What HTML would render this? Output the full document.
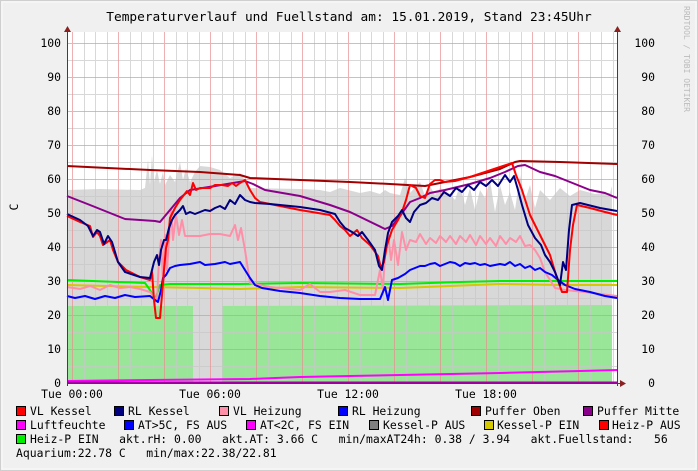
<!DOCTYPE html>
<html><head><meta charset="utf-8"><style>
html,body{margin:0;padding:0;background:#f0f0f0}
svg{display:block}
text{font-family:"DejaVu Sans Mono","Liberation Mono",monospace;fill:#000;white-space:pre}
</style></head><body>
<svg width="698" height="471" viewBox="0 0 698 471" xmlns="http://www.w3.org/2000/svg">
<rect x="0" y="0" width="698" height="471" fill="#f0f0f0"/>
<rect x="0.5" y="0.5" width="697" height="470" fill="none" stroke="#cfcfcf" stroke-width="1"/>
<rect x="2" y="2" width="694" height="467" fill="none" stroke="#fafafa" stroke-width="1"/>
<rect x="67" y="32" width="550" height="351" fill="#fff"/>
<polygon fill="#d8d8d8" points="67,383 67,190 100,189 140,190 145,188 148,160 150,185 152,155 154,182 157,170 160,184 163,172 165,185 170,175 175,182 180,162 183,180 186,168 190,182 195,172 200,166 210,167 220,170 230,178 240,173 250,188 300,189 320,190 330,192 340,188 360,193 370,191 380,194 385,190 390,193 400,195 405,178 410,193 420,182 425,196 430,186 435,195 440,188 450,194 455,200 460,185 465,205 470,188 475,210 480,190 485,198 490,180 495,212 500,185 505,205 510,192 515,210 520,175 525,200 530,185 535,208 540,190 545,195 550,200 560,188 570,196 580,190 595,194 610,193 612,186 612,383"/>
<polygon fill="#99e699" points="67,383 67,306 193,306 193,383"/>
<polygon fill="#99e699" points="222,383 222,306 612,305 612,383"/>
<g stroke="#c8c8c8" stroke-width="1" opacity="0.7">
<path d="M95.5 32V383M141.5 32V383M187.5 32V383M233.5 32V383M279.5 32V383M325.5 32V383M371.5 32V383M417.5 32V383M463.5 32V383M509.5 32V383M555.5 32V383M601.5 32V383M84.5 32V383M107.5 32V383M130.5 32V383M153.5 32V383M176.5 32V383M199.5 32V383M222.5 32V383M245.5 32V383M268.5 32V383M291.5 32V383M314.5 32V383M337.5 32V383M360.5 32V383M383.5 32V383M406.5 32V383M429.5 32V383M452.5 32V383M475.5 32V383M498.5 32V383M521.5 32V383M544.5 32V383M567.5 32V383M590.5 32V383M613.5 32V383"/>
<path d="M67 366.5H617M67 332.5H617M67 298.5H617M67 264.5H617M67 230.5H617M67 196.5H617M67 162.5H617M67 128.5H617M67 94.5H617M67 60.5H617"/>
</g>
<g stroke="#e89090" stroke-width="1" opacity="0.7">
<path d="M72.5 32V383M118.5 32V383M164.5 32V383M210.5 32V383M256.5 32V383M302.5 32V383M348.5 32V383M394.5 32V383M440.5 32V383M486.5 32V383M532.5 32V383M578.5 32V383"/>
<path d="M67 349.5H617M67 315.5H617M67 281.5H617M67 247.5H617M67 213.5H617M67 179.5H617M67 145.5H617M67 111.5H617M67 77.5H617M67 43.5H617"/>
</g>
<g fill="none" stroke-width="2" stroke-linejoin="round">
<polyline stroke="#d4c800" points="67,285 150,287 200,288 240,289 300,287 400,288 450,286 500,284 560,285 617,285"/>
<polyline stroke="#00ee00" points="67,280 145,283 150,290 155,300 160,285 170,284 240,284 300,283 400,284 460,282 500,281 617,281"/>
<polyline stroke="#ff8fa8" points="67,287 80,289 90,286 100,290 110,285 120,288 130,287 140,289 150,292 157,300 159,260 161,240 163,280 165,235 167,270 169,240 171,210 173,240 176,215 179,235 182,220 185,236 190,236 200,236 210,234 220,234 230,236 235,225 238,240 241,228 245,250 250,283 270,287 300,290 310,284 320,292 330,292 345,290 360,295 375,295 380,270 383,290 385,250 388,235 391,260 394,240 398,265 402,232 406,250 410,240 416,242 420,234 426,244 430,238 436,243 440,236 446,242 450,236 456,244 460,236 466,242 470,235 476,245 480,236 486,244 490,238 496,246 500,236 506,244 510,238 516,242 520,236 525,246 530,245 535,250 540,258 545,272 555,288 565,290 585,292 600,294 617,296"/>
<polyline stroke="#0000ff" points="67,296 75,298 85,296 95,299 105,296 115,298 125,295 135,297 150,296 155,300 158,302 161,290 163,278 166,275 170,268 175,266 180,265 190,264 200,262 205,265 215,264 225,262 230,264 240,262 245,270 250,278 255,285 262,288 280,291 300,293 320,296 340,298 360,299 380,299 385,287 388,300 392,280 398,278 405,274 410,270 415,268 420,266 425,266 430,264 435,263 440,266 445,264 450,262 455,263 460,266 465,263 470,264 475,263 480,265 485,264 490,266 495,265 500,264 505,265 510,262 515,266 520,264 525,268 530,266 535,270 540,268 545,272 552,275 558,280 565,285 575,289 590,292 605,296 617,298"/>
<polyline stroke="#a00000" points="67,166 150,170 200,172 240,175 250,178 300,180 350,182 390,184 425,186 440,183 470,177 500,169 515,162 520,161 560,162 617,164"/>
<polyline stroke="#8b008b" points="67,196 90,205 110,213 125,219 155,221 160,222 170,210 180,198 190,190 215,186 245,181 253,184 265,190 300,196 330,205 350,212 385,229 392,226 400,216 410,202 420,198 430,193 445,190 470,184 490,178 505,172 518,166 525,165 540,172 555,176 565,180 575,184 590,190 605,193 617,198"/>
<polyline stroke="#ff0000" points="67,216 80,222 90,226 93,237 97,232 100,236 103,245 110,240 113,250 118,262 126,270 140,277 150,280 152,272 154,300 156,318 160,318 162,295 164,270 166,248 168,240 170,218 175,208 180,200 187,191 190,195 193,183 196,190 200,188 210,188 215,185 222,185 228,186 232,183 236,186 240,183 245,180 250,190 255,198 260,202 280,206 300,210 330,215 335,220 340,226 345,230 350,236 357,230 362,238 370,245 378,256 381,268 384,262 387,245 392,230 398,220 402,212 406,200 410,185 416,188 420,196 425,198 430,184 435,180 440,180 445,182 455,181 470,177 485,172 500,167 512,163 516,175 522,190 530,215 540,235 545,245 550,255 556,275 562,292 567,292 570,250 573,225 577,205 590,208 605,212 617,215"/>
<polyline stroke="#000080" points="67,214 80,220 88,226 93,236 97,230 100,232 104,244 108,236 112,242 118,262 125,272 140,277 150,278 152,270 154,262 157,255 159,265 161,250 164,240 166,240 169,228 172,220 175,215 180,210 183,206 186,214 190,212 195,214 200,212 205,210 210,211 215,208 220,206 225,209 230,200 235,204 240,195 245,200 250,202 255,203 270,204 300,207 320,210 335,214 340,222 345,228 352,232 358,236 362,232 368,240 375,250 379,266 382,270 385,250 388,233 392,222 398,216 402,210 406,218 410,222 414,212 420,205 426,203 432,198 438,200 444,192 450,196 456,188 462,192 468,185 474,190 480,182 486,186 492,180 498,186 505,175 510,182 514,176 518,190 522,205 528,225 535,238 541,245 545,255 550,262 555,272 560,285 563,262 566,270 569,230 572,205 580,203 600,208 617,211"/>
<polyline stroke="#ff00ff" points="67,381 150,380 250,379 300,377 400,375 500,373 580,371 617,370"/>
</g>
<line x1="67" y1="382.5" x2="617" y2="382.5" stroke="#a000a0" stroke-width="2"/>
<g stroke="#404040" stroke-width="1">
<line x1="67.5" y1="30" x2="67.5" y2="386"/>
<line x1="617.5" y1="30" x2="617.5" y2="386"/>
<line x1="67" y1="383.5" x2="620" y2="383.5"/>
</g>
<polygon points="64,32 71,32 67.5,26" fill="#8b2020"/>
<polygon points="614,32 621,32 617.5,26" fill="#8b2020"/>
<polygon points="620,380 620,387 626,383.5" fill="#8b2020"/>
<text x="349" y="21" font-size="12.8" text-anchor="middle">Temperaturverlauf und Fuellstand am: 15.01.2019, Stand 23:45Uhr</text>
<g font-size="11.4" text-anchor="end">
<text x="61" y="47">100</text><text x="61" y="81">90</text><text x="61" y="115">80</text><text x="61" y="149">70</text><text x="61" y="183">60</text><text x="61" y="217">50</text><text x="61" y="251">40</text><text x="61" y="285">30</text><text x="61" y="319">20</text><text x="61" y="353">10</text><text x="61" y="387">0</text>
</g>
<g font-size="11.4" text-anchor="end">
<text x="655" y="47">100</text><text x="655" y="81">90</text><text x="655" y="115">80</text><text x="655" y="149">70</text><text x="655" y="183">60</text><text x="655" y="217">50</text><text x="655" y="251">40</text><text x="655" y="285">30</text><text x="655" y="319">20</text><text x="655" y="353">10</text><text x="655" y="387">0</text>
</g>
<text x="18" y="207" font-size="11.4" transform="rotate(-90 18 207)" text-anchor="middle">C</text>
<text x="684" y="6" font-size="8" style="fill:#bbb" transform="rotate(90 684 6)">RRDTOOL / TOBI OETIKER</text>
<g font-size="11.4" text-anchor="middle">
<text x="72" y="398">Tue 00:00</text><text x="210" y="398">Tue 06:00</text><text x="348" y="398">Tue 12:00</text><text x="486" y="398">Tue 18:00</text>
</g>
<g stroke="#000" stroke-width="1">
<rect x="16.5" y="406.5" width="9" height="9" fill="#ff0000"/>
<rect x="114.5" y="406.5" width="9" height="9" fill="#000080"/>
<rect x="219.5" y="406.5" width="9" height="9" fill="#ff8fa8"/>
<rect x="338.5" y="406.5" width="9" height="9" fill="#0000ff"/>
<rect x="471.5" y="406.5" width="9" height="9" fill="#a00000"/>
<rect x="583.5" y="406.5" width="9" height="9" fill="#8b008b"/>
<rect x="16.5" y="420.5" width="9" height="9" fill="#ff00ff"/>
<rect x="124.5" y="420.5" width="9" height="9" fill="#0000ff"/>
<rect x="246.5" y="420.5" width="9" height="9" fill="#ff00ff"/>
<rect x="369.5" y="420.5" width="9" height="9" fill="#808080"/>
<rect x="484.5" y="420.5" width="9" height="9" fill="#d4c800"/>
<rect x="599.5" y="420.5" width="9" height="9" fill="#ff0000"/>
<rect x="16.5" y="434.5" width="9" height="9" fill="#00ee00"/>
</g>
<g font-size="11.4">
<text x="30" y="415">VL Kessel</text><text x="128" y="415">RL Kessel</text><text x="233" y="415">VL Heizung</text><text x="352" y="415">RL Heizung</text><text x="485" y="415">Puffer Oben</text><text x="597" y="415">Puffer Mitte</text>
<text x="30" y="429">Luftfeuchte</text><text x="138" y="429">AT&gt;5C, FS AUS</text><text x="260" y="429">AT&lt;2C, FS EIN</text><text x="383" y="429">Kessel-P AUS</text><text x="497" y="429">Kessel-P EIN</text><text x="612" y="429">Heiz-P AUS</text>
<text x="30" y="443">Heiz-P EIN   akt.rH: 0.00   akt.AT: 3.66 C   min/maxAT24h: 0.38 / 3.94   akt.Fuellstand:   56</text>
<text x="16" y="457">Aquarium:22.78 C   min/max:22.38/22.81</text>
</g>
</svg>
</body></html>
